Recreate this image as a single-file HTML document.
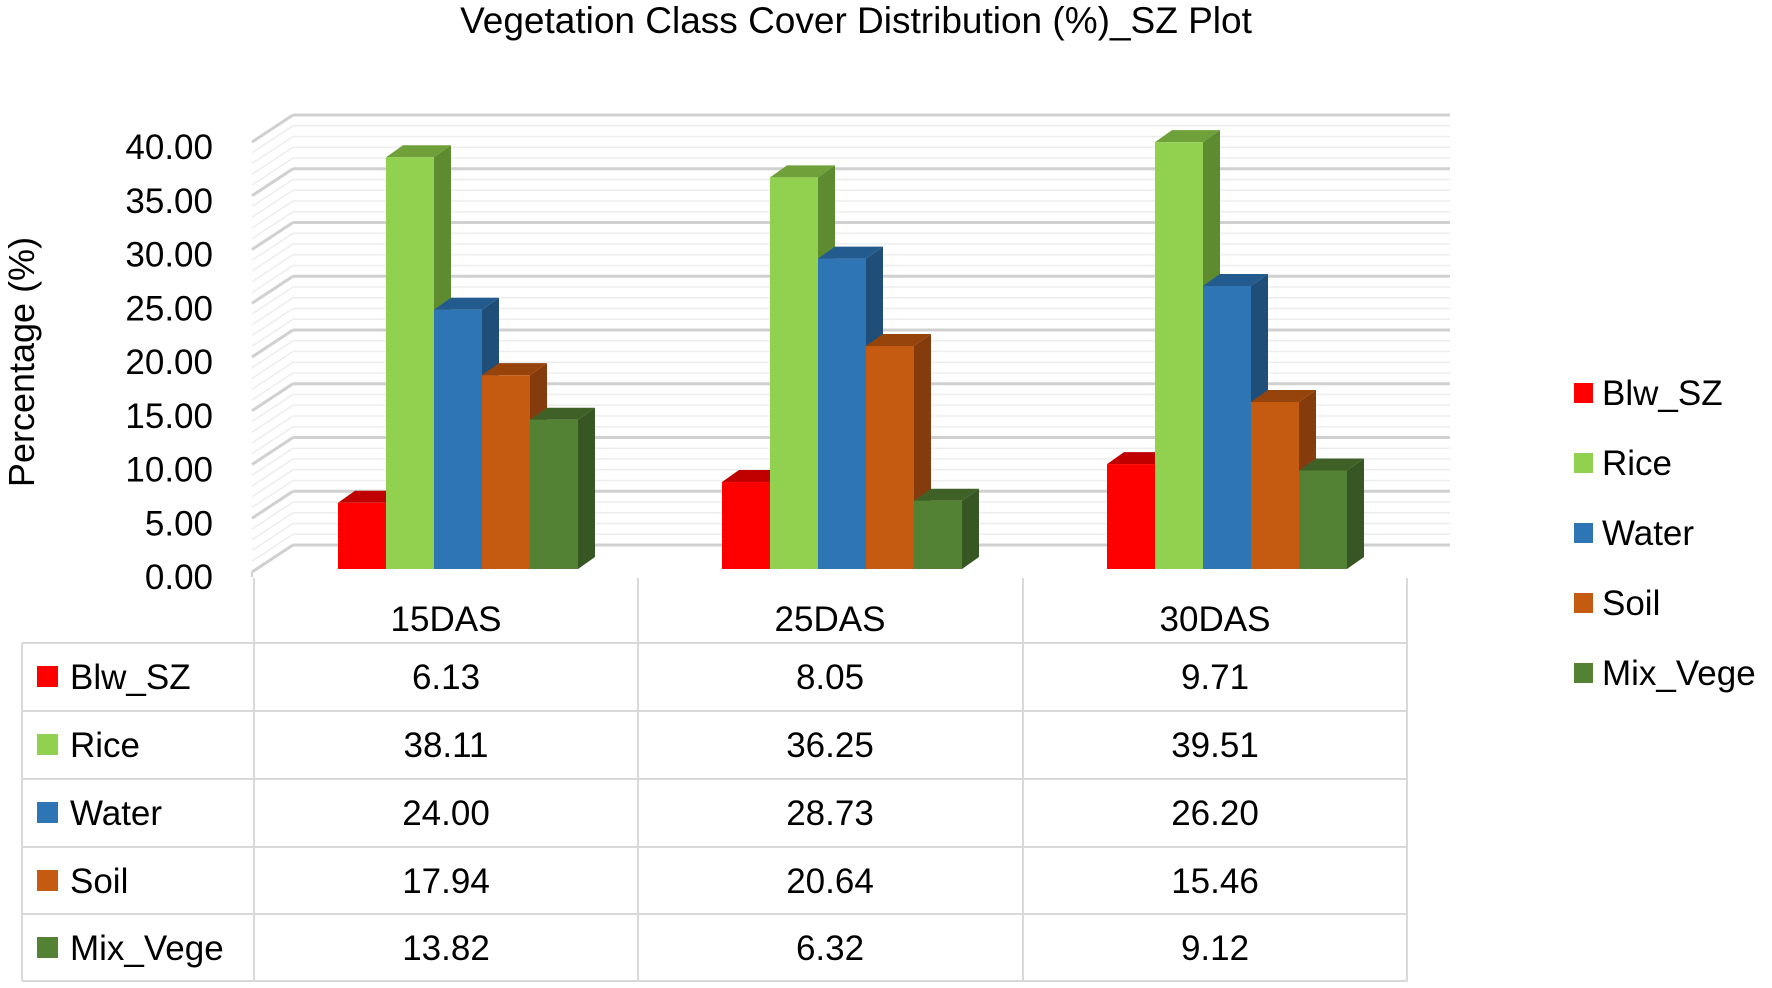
<!DOCTYPE html>
<html><head><meta charset="utf-8"><style>
html,body{margin:0;padding:0;background:#fff;}
svg{display:block;font-family:"Liberation Sans",sans-serif;}
</style></head><body>
<svg width="1772" height="988" viewBox="0 0 1772 988" xmlns="http://www.w3.org/2000/svg">
<rect width="1772" height="988" fill="#fff"/>
<text x="856" y="33" font-size="37" text-anchor="middle" fill="#000">Vegetation Class Cover Distribution (%)_SZ Plot</text>
<g id="grid"></g>
<g id="bars"></g>
<g font-size="35" fill="#000" text-anchor="end" id="yt"></g>
<text transform="translate(34,362) rotate(-90)" font-size="36" text-anchor="middle">Percentage (%)</text>
<g stroke="#d9d9d9" stroke-width="2" fill="none">
<line x1="254" y1="578" x2="254" y2="981"/>
<line x1="638" y1="578" x2="638" y2="981"/>
<line x1="1023" y1="578" x2="1023" y2="981"/>
<line x1="1407" y1="578" x2="1407" y2="981"/>
<line x1="22" y1="643" x2="22" y2="981"/>
<line x1="22" y1="643" x2="1407" y2="643"/>
<line x1="22" y1="711" x2="1407" y2="711"/>
<line x1="22" y1="779" x2="1407" y2="779"/>
<line x1="22" y1="847" x2="1407" y2="847"/>
<line x1="22" y1="914" x2="1407" y2="914"/>
<line x1="22" y1="981" x2="1407" y2="981"/>
</g>
<g font-size="35" text-anchor="middle" fill="#000">
<text x="446" y="631">15DAS</text><text x="830" y="631">25DAS</text><text x="1215" y="631">30DAS</text>
</g>
<g id="tbl" font-size="35" fill="#000"></g>
<g id="leg" font-size="35" fill="#000"></g>
</svg>
<script>
const NS="http://www.w3.org/2000/svg";
function el(p,t,a,txt){const e=document.createElementNS(NS,t);for(const k in a)e.setAttribute(k,a[k]);if(txt!==undefined)e.textContent=txt;document.getElementById(p).appendChild(e);return e;}
const F0=569,K=10.75,B0=545;
for(let v=0;v<=40;v++){
  const major=v%5==0;
  const yb=B0-K*v, yf=F0+3-K*v;
  el('grid','line',{x1:293,y1:yb,x2:1450,y2:yb,stroke:major?'#d0d0d0':'#ededed','stroke-width':major?3:1.5});
  el('grid','line',{x1:252,y1:yf,x2:293,y2:yb,stroke:major?'#d0d0d0':'#ededed','stroke-width':major?3:1.5});
}
el('grid','line',{x1:252,y1:F0+3,x2:252,y2:F0+8,stroke:'#d0d0d0','stroke-width':2});
for(let v=0;v<=40;v+=5){el('yt','text',{x:213,y:B0+44-K*v},v.toFixed(2));}
const series=[
 {n:'Blw_SZ',f:'#FF0000',t:'#C00000',s:'#A00000',d:[6.13,8.05,9.71]},
 {n:'Rice',f:'#92D050',t:'#70A03A',s:'#5E8A30',d:[38.11,36.25,39.51]},
 {n:'Water',f:'#2E75B6',t:'#235B8E',s:'#1F4E79',d:[24.00,28.73,26.20]},
 {n:'Soil',f:'#C55A11',t:'#96430C',s:'#843C0C',d:[17.94,20.64,15.46]},
 {n:'Mix_Vege',f:'#548235',t:'#3F6128',s:'#375623',d:[13.82,6.32,9.12]}];
const gx=[338,722,1107],W=48,DX=17,DY=12;
for(let g=0;g<3;g++){
  series.forEach((s,i)=>{
    const x=gx[g]+i*W, yt=F0-K*s.d[g]*1.005;
    el('bars','polygon',{points:`${x+W},${yt} ${x+W+DX},${yt-DY} ${x+W+DX},${F0-DY} ${x+W},${F0}`,fill:s.s});
    el('bars','polygon',{points:`${x},${yt} ${x+DX},${yt-DY} ${x+W+DX},${yt-DY} ${x+W},${yt}`,fill:s.t});
    el('bars','rect',{x:x,y:yt,width:W,height:F0-yt,fill:s.f});
  });
}
const rows=[677,745,813,881,948];
series.forEach((s,i)=>{
  el('tbl','rect',{x:37,y:rows[i]-11,width:21,height:21,fill:s.f});
  el('tbl','text',{x:70,y:rows[i]+12},s.n);
  [446,830,1215].forEach((cx,g)=>el('tbl','text',{x:cx,y:rows[i]+12,'text-anchor':'middle'},s.d[g].toFixed(2)));
  const ly=393+70*i;
  el('leg','rect',{x:1574,y:ly-10,width:19,height:20,fill:s.f});
  el('leg','text',{x:1602,y:ly+12},s.n);
});
</script>
</body></html>
